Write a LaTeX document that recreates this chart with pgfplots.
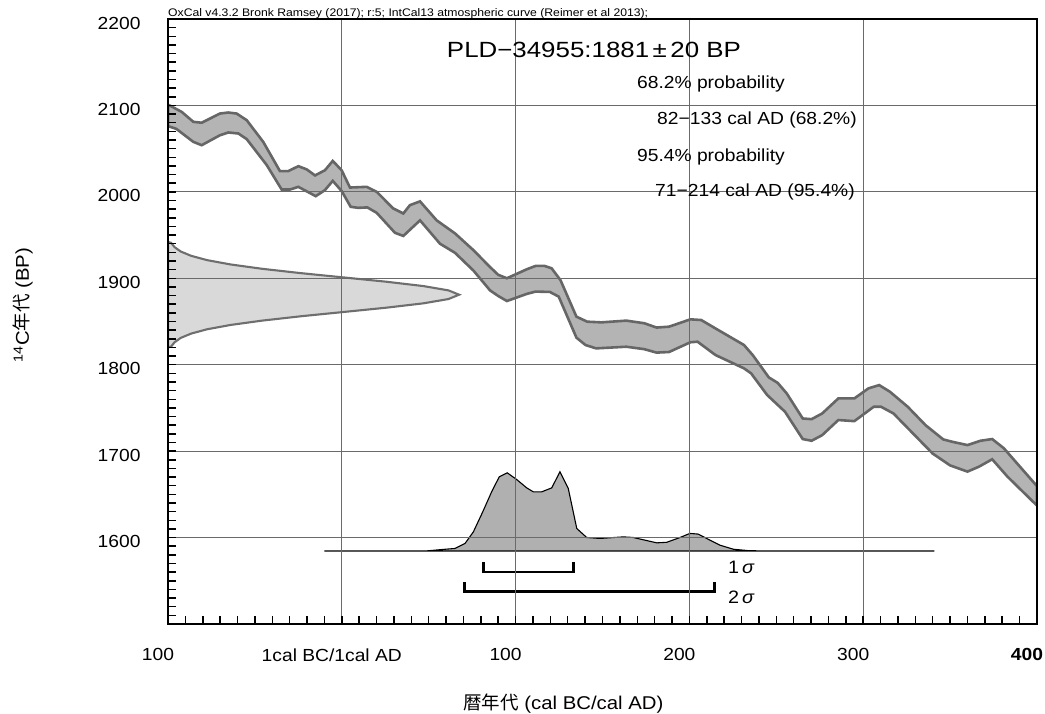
\documentclass[border=0pt]{standalone}
\usepackage{pgfplots}
\pgfplotsset{compat=1.18}
\usepackage{fontspec}
\usepackage{graphicx}
\setmainfont{Liberation Sans}[FakeStretch=1.1]
\newfontfamily\jp{Noto Sans CJK JP}
\definecolor{bandfill}{HTML}{B4B4B4}
\definecolor{bandedge}{HTML}{666666}
\definecolor{leftfill}{HTML}{D9D9D9}
\definecolor{leftedge}{HTML}{6E6E6E}
\definecolor{botfill}{HTML}{B0B0B0}
\definecolor{gridc}{HTML}{6A6A6A}
\begin{document}
\begin{tikzpicture}
\useasboundingbox (-168bp,-90bp) rectangle (877bp,624bp);
\begin{axis}[
  at={(0,0)}, anchor=south west,
  scale only axis, width=869bp, height=605bp,
  xmin=-100, xmax=400, ymin=1500, ymax=2200,
  axis on top,
  xtick={-100,0,100,200,300,400},
  xticklabels={100,1cal BC/1cal AD,100,200,300,\textbf{400}},
  minor x tick num=9,
  ytick={1500,1600,1700,1800,1900,2000,2100,2200},
  yticklabels={,1600,1700,1800,1900,2000,2100,2200},
  minor y tick num=9,
  tick align=inside,
  xtick pos=lower, ytick pos=left,
  major tick length=8bp, minor tick length=8bp,
  every tick/.style={black, line width=1.5bp},
  xmajorgrids, ymajorgrids,
  grid style={color=gridc, line width=1bp},
  axis line style={line width=2.8bp},
  ticklabel style={font=\fontsize{17.5bp}{20bp}\selectfont},
  xticklabel style={yshift=-21bp, xshift=-10bp},
  yticklabel style={xshift=-24bp, yshift=-4bp},
]
% calibration band
\addplot[draw=bandedge, line width=2.6bp, fill=bandfill] coordinates {
(-100,2101) (-92.1,2092.5) (-85.4,2081) (-80.6,2080) (-70.1,2090.6) (-65.3,2091.8) (-60.5,2090.6) (-54.7,2082.9) (-45.2,2057.8) (-35.6,2024) (-30.8,2024) (-25.0,2029.7) (-20.2,2026) (-15.4,2019) (-9.7,2025) (-5.2,2035.8) (-0.1,2025) (4.7,2005) (14.3,2005.8) (20.1,2000) (29.6,1980.8) (35.4,1975) (39.2,1984.6) (45.0,1989) (54.6,1967) (65.1,1952) (75.7,1932.6) (85.3,1913) (90,1904) (95,1900) (106.4,1910.4) (111.5,1914.3) (116.6,1914.3) (120.7,1911.6) (125.8,1898) (135,1855.6) (141.2,1849.8) (149.4,1849) (163.7,1851) (174,1848) (181.1,1843) (188.3,1844) (200.6,1852.5) (206.8,1851.7) (215,1842) (231.4,1822.8) (236.5,1811) (245.7,1785.3) (250.8,1779) (256,1766.8) (265.2,1737.8) (270.3,1737) (276.4,1743.6) (285.7,1761) (294.9,1761) (303,1772.6) (309.2,1776.4) (315.4,1768.7) (325.6,1751.4) (335.9,1730) (346.1,1713.5) (352,1710.5) (360,1707) (367.5,1712) (374.2,1714) (380.9,1703.4) (400,1659.5)
(400,1637) (383,1670.5) (374.2,1690.6) (366.6,1682) (360,1676.3) (350,1683.5) (339.9,1697.3) (317.4,1743.6) (310.2,1751.4) (306.1,1751.4) (294.9,1734.7) (285.7,1736) (276.4,1718.5) (270.3,1712) (265.2,1714) (255,1745.6) (244.7,1765) (235.5,1790) (231.4,1795.8) (215,1811.2) (204.7,1826.6) (200.6,1826) (188.3,1814.7) (181.1,1814) (174,1818) (163.7,1820.8) (146.3,1818.9) (140.2,1822.8) (135,1831.3) (124.8,1878.8) (119.7,1884.2) (111.5,1884.6) (106.4,1881.9) (95,1873.7) (90,1879.5) (85.3,1886) (75.7,1909) (65.1,1929.5) (56.5,1940) (45.0,1967) (35.4,1949) (30.6,1952.6) (20.1,1975.7) (14.7,1982) (9.5,1981.5) (5.1,1982.7) (-0.1,2001) (-5.2,2012.7) (-9.7,2002) (-15.0,1995) (-25.0,2005.8) (-29.8,2002.7) (-34.6,2002.7) (-43.2,2031) (-54.7,2061) (-59.5,2067.5) (-65.3,2068.7) (-70.1,2065.5) (-80.6,2054) (-85.4,2057.8) (-95.3,2073) (-100,2076)
} -- cycle;
% radiocarbon date distribution
\addplot[draw=leftedge, line width=2.1bp, fill=leftfill] coordinates {
(-100,1942) (-98.2,1941) (-96.2,1936) (-92.7,1931) (-86.7,1926) (-77.5,1921) (-64.0,1916) (-45.9,1911) (-23.8,1906) (1.0,1901) (25.7,1896) (46.9,1891) (61.4,1886) (67.5,1881) (61.4,1876) (46.9,1871) (25.7,1866) (1.0,1861) (-23.8,1856) (-45.9,1851) (-64.0,1846) (-77.5,1841) (-86.7,1836) (-92.7,1831) (-96.2,1826) (-98.2,1821) (-100,1820)
} -- cycle;
% calibrated distribution
\addplot[draw=black, line width=1.1bp, fill=botfill] coordinates {
(-10,1584.5) (48.9,1584.6) (58.4,1586.3) (65.1,1587.4) (70.9,1593.2) (75.7,1606.6) (81.1,1629.8) (86.2,1652.9) (90.6,1670.3) (95.2,1674.9) (100.6,1667.2) (106.4,1657.5) (110.2,1652.9) (115.0,1652.9) (120.8,1657.5) (125.5,1676.1) (130.3,1656.8) (135.2,1610.5) (140.9,1600.1) (148.6,1599) (162.0,1600.8) (167.7,1600.1) (181.2,1593.9) (186.9,1594.5) (194.6,1600.1) (200.3,1604.8) (205.1,1604) (209.9,1599) (217.6,1591.2) (225.3,1586.5) (234.9,1584.7) (341,1584.5)
} -- cycle;
% sigma ranges
\addplot[black, line width=2.7bp] coordinates {(81.4,1571.2) (81.4,1560.3) (133.2,1560.3) (133.2,1571.2)};
\addplot[black, line width=2.7bp] coordinates {(70.5,1548.8) (70.5,1538) (214.3,1538) (214.3,1548.8)};
\end{axis}
% texts
\node[anchor=base west, inner sep=0] at (0bp,607bp) {\resizebox{480bp}{\height}{\fontsize{11bp}{13bp}\selectfont OxCal v4.3.2 Bronk Ramsey (2017); r:5; IntCal13 atmospheric curve (Reimer et al 2013);}};
\node[anchor=base, inner sep=0] at (426bp,566bp) {\resizebox{294bp}{\height}{\fontsize{22bp}{26bp}\selectfont PLD−34955:1881\hspace{0.15em}±\hspace{0.15em}20 BP}};
\node[anchor=base east, inner sep=0, font=\fontsize{17.5bp}{20bp}\selectfont] at (617bp,535.5bp) {68.2\% probability};
\node[anchor=base east, inner sep=0, font=\fontsize{17.5bp}{20bp}\selectfont] at (689bp,499.5bp) {82−133 cal AD (68.2\%)};
\node[anchor=base east, inner sep=0, font=\fontsize{17.5bp}{20bp}\selectfont] at (617bp,462.5bp) {95.4\% probability};
\node[anchor=base east, inner sep=0, font=\fontsize{17.5bp}{20bp}\selectfont] at (687bp,427.5bp) {71−214 cal AD (95.4\%)};
\node[anchor=base west, inner sep=0, font=\fontsize{18bp}{20bp}\selectfont] at (560bp,50.5bp) {1\,\textit{σ}};
\node[anchor=base west, inner sep=0, font=\fontsize{18bp}{20bp}\selectfont] at (560bp,21bp) {2\,\textit{σ}};
\node[rotate=90, inner sep=0, font=\fontsize{18.5bp}{20bp}\selectfont] at (-145bp,319bp) {\textsuperscript{14}C{\jp 年代} (BP)};
\node[anchor=base west, inner sep=0, font=\fontsize{18.5bp}{20bp}\selectfont] at (295bp,-85bp) {{\jp 暦年代} (cal BC/cal AD)};
\end{tikzpicture}
\end{document}
